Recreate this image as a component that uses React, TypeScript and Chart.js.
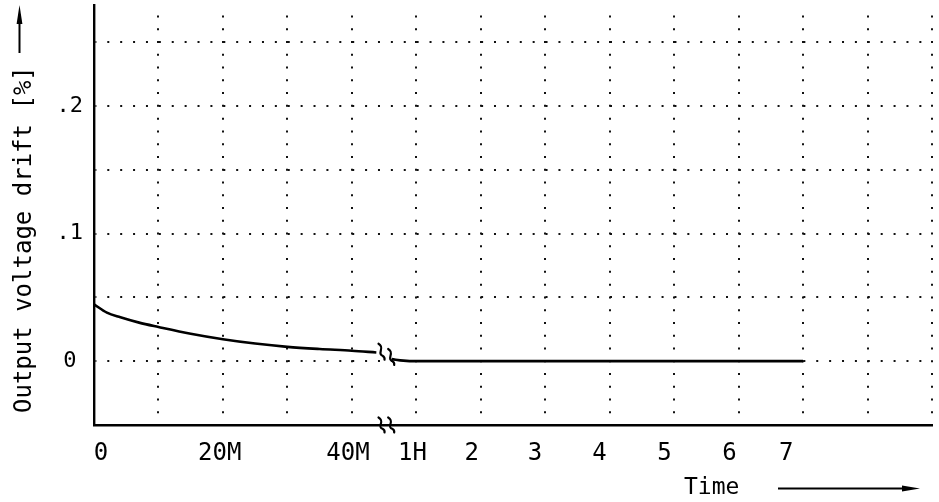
import React, { useEffect, useRef } from "react";
import { Chart, registerables } from "chart.js";

Chart.register(...registerables);

// Time axis in grid units: 0..40M (minutes, 10 min per grid), break, then 1H..7H
const leftTime = [0, 0.2, 0.41, 0.7, 1, 1.5, 2, 2.5, 3, 3.5, 4, 4.38];
const leftDrift = [0.0445, 0.038, 0.0344, 0.0302, 0.0268, 0.0215, 0.0172, 0.0138, 0.0112, 0.0095, 0.0082, 0.0068];
const rightTime = [4.62, 4.8, 5, 6, 7, 8, 9, 10, 11];
const rightDrift = [0.0016, 0.0004, 0, 0, 0, 0, 0, 0, 0];

const xGridTicks = [0, 1, 2, 3, 4, 5, 6, 7, 8, 9, 10, 11, 12, 13];
const xLabelPositions = [0.11, 1.95, 3.94, 4.94, 5.86, 6.84, 7.84, 8.85, 9.86, 10.74];
const xLabelTexts = ["0", "20M", "40M", "1H", "2", "3", "4", "5", "6", "7"];

const yGridTicks = [-0.05, 0, 0.05, 0.1, 0.15, 0.2, 0.25];
const yLabelValues = [0, 0.1, 0.2];
const yLabelTexts = ["0", ".1", ".2"];

const breakPositions = [4.46, 4.61];
const breakCurveValues = [0.0074, 0.0033];
const axisBreakValue = -0.05;

const MONO = "'DejaVu Sans Mono', 'Liberation Mono', monospace";

const decorPlugin = {
  id: "decor",
  afterDraw(chart: any) {
    const ctx = chart.ctx as CanvasRenderingContext2D;
    const xs = chart.scales.x;
    const ys = chart.scales.y;
    ctx.save();
    ctx.strokeStyle = "#000";
    ctx.fillStyle = "#000";
    ctx.lineWidth = 2.2;
    ctx.lineCap = "round";

    // break squiggles on curve and on axis
    const squiggle = (cx: number, cy: number, h: number) => {
      ctx.beginPath();
      ctx.moveTo(cx - 3, cy - h / 2);
      ctx.bezierCurveTo(cx + 4, cy - h / 4, cx - 5, cy + h / 8, cx + 1, cy + h / 4);
      ctx.quadraticCurveTo(cx + 3.5, cy + h / 3, cx + 3, cy + h / 2);
      ctx.stroke();
    };
    breakPositions.forEach((bx, i) => {
      const px = xs.getPixelForValue(bx);
      squiggle(px, ys.getPixelForValue(breakCurveValues[i]), 16);
      squiggle(px, ys.getPixelForValue(axisBreakValue), 15);
    });

    // y axis title
    ctx.save();
    ctx.translate(31, 413);
    ctx.rotate(-Math.PI / 2);
    ctx.font = `24px ${MONO}`;
    ctx.textAlign = "left";
    ctx.textBaseline = "alphabetic";
    ctx.fillText("Output voltage drift [%]", 0, 0);
    ctx.restore();

    // up arrow
    ctx.lineWidth = 2;
    ctx.lineCap = "butt";
    ctx.beginPath();
    ctx.moveTo(19.5, 53);
    ctx.lineTo(19.5, 14);
    ctx.stroke();
    ctx.beginPath();
    ctx.moveTo(19.5, 5);
    ctx.lineTo(16.6, 24);
    ctx.lineTo(22.4, 24);
    ctx.closePath();
    ctx.fill();

    // x title
    ctx.font = `23px ${MONO}`;
    ctx.textAlign = "left";
    ctx.textBaseline = "alphabetic";
    ctx.fillText("Time", 684, 494);

    // right arrow
    ctx.beginPath();
    ctx.moveTo(778, 488.5);
    ctx.lineTo(910, 488.5);
    ctx.stroke();
    ctx.beginPath();
    ctx.moveTo(920, 488.5);
    ctx.lineTo(902, 485.6);
    ctx.lineTo(902, 491.4);
    ctx.closePath();
    ctx.fill();

    ctx.restore();
  },
};

export default function App() {
  const canvasRef = useRef<HTMLCanvasElement | null>(null);

  useEffect(() => {
    document.body.style.margin = "0";
    const canvas = canvasRef.current;
    if (!canvas) return;

    const chart = new Chart(canvas, {
      type: "line",
      data: {
        datasets: [
          {
            data: leftTime.map((t, i) => ({ x: t, y: leftDrift[i] })),
            borderColor: "#000",
            borderWidth: 2.6,
            pointRadius: 0,
            cubicInterpolationMode: "monotone",
            fill: false,
          },
          {
            data: rightTime.map((t, i) => ({ x: t, y: rightDrift[i] })),
            borderColor: "#000",
            borderWidth: 2.6,
            pointRadius: 0,
            cubicInterpolationMode: "monotone",
            fill: false,
          },
        ],
      },
      options: {
        responsive: false,
        animation: false,
        devicePixelRatio: 1,
        layout: { padding: { top: 5, right: 7, left: 0, bottom: 0 } },
        plugins: { legend: { display: false }, tooltip: { enabled: false } },
        scales: {
          x: {
            type: "linear",
            position: "bottom",
            min: 0,
            max: 13,
            afterBuildTicks: (s: any) => {
              s.ticks = xGridTicks.map((v) => ({ value: v }));
            },
            afterFit: (s: any) => {
              s.height = 0;
              s.paddingLeft = 0;
              s.paddingRight = 0;
            },
            ticks: { display: false },
            grid: { color: "#111", lineWidth: 2, drawTicks: false },
            border: { display: true, color: "#000", width: 2.4, dash: [2, 10.77], dashOffset: 2.3 },
          },
          x2: {
            type: "linear",
            position: "bottom",
            min: 0,
            max: 13,
            afterBuildTicks: (s: any) => {
              s.ticks = xLabelPositions.map((v) => ({ value: v }));
            },
            afterFit: (s: any) => {
              s.height = 77;
              s.paddingLeft = 0;
              s.paddingRight = 0;
            },
            ticks: {
              autoSkip: false,
              maxRotation: 0,
              minRotation: 0,
              padding: 14,
              color: "#000",
              font: { family: MONO, size: 24 },
              callback: (v: any) => {
                const i = xLabelPositions.findIndex((p) => Math.abs(p - v) < 1e-6);
                return i >= 0 ? xLabelTexts[i] : "";
              },
            },
            grid: { display: false, drawTicks: false },
            border: { display: false },
          },
          y: {
            type: "linear",
            min: -0.05,
            max: 0.279,
            afterBuildTicks: (s: any) => {
              s.ticks = yGridTicks.map((v) => ({ value: v }));
            },
            afterFit: (s: any) => {
              s.width = 94;
              s.paddingTop = 0;
              s.paddingBottom = 0;
            },
            ticks: {
              padding: 11,
              crossAlign: "center",
              color: "#000",
              font: { family: MONO, size: 22 },
              callback: (v: any) => {
                const i = yLabelValues.findIndex((p) => Math.abs(p - v) < 1e-6);
                return i >= 0 ? yLabelTexts[i] : "";
              },
            },
            grid: { color: "#111", lineWidth: 2, drawTicks: false },
            border: { display: true, color: "#000", width: 2.4, dash: [2, 10.89], dashOffset: 1 },
          },
        },
      } as any,
      plugins: [decorPlugin],
    });

    return () => chart.destroy();
  }, []);

  return (
    <div style={{ width: 939, height: 502, background: "#fff" }}>
      <canvas ref={canvasRef} width={939} height={502} style={{ display: "block" }} />
    </div>
  );
}
